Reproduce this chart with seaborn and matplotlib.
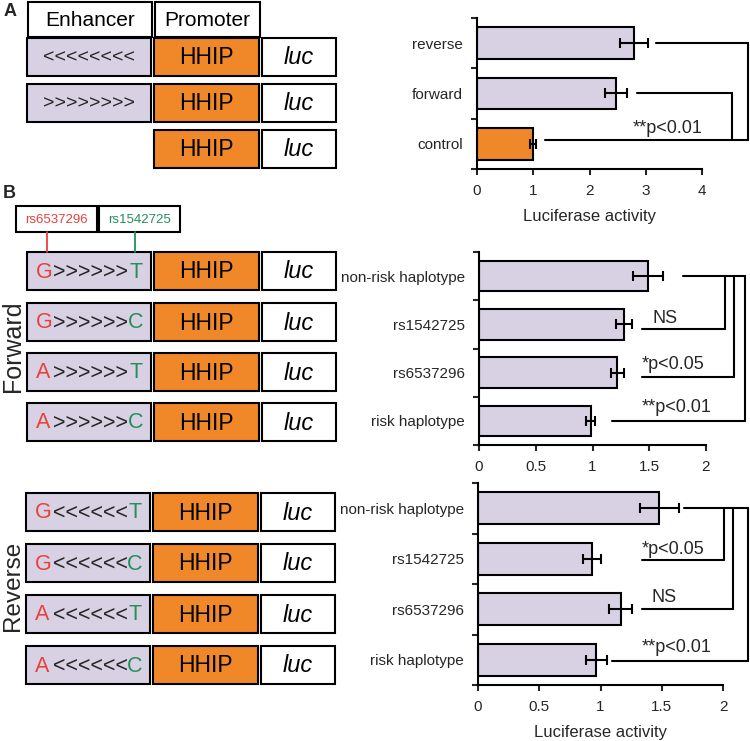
import matplotlib.pyplot as plt
import matplotlib.patches as mpatches
import seaborn as sns
import pandas as pd

# ------------------------------------------------------------------
# Data
# ------------------------------------------------------------------

a_labels = ["reverse", "forward", "control"]
a_values = [2.79, 2.47, 1.00]
a_errors = [0.25, 0.20, 0.05]

hap_labels = ["non-risk haplotype", "rs1542725", "rs6537296", "risk haplotype"]

fwd_values = [1.49, 1.28, 1.22, 0.985]
fwd_errors = [0.13, 0.07, 0.06, 0.04]
fwd_stats = ["NS", "*p<0.05", "**p<0.01"]

rev_values = [1.48, 0.93, 1.165, 0.965]
rev_errors = [0.16, 0.075, 0.095, 0.085]
rev_stats = ["*p<0.05", "NS", "**p<0.01"]

snp_names = ["rs6537296", "rs1542725"]
fwd_constructs = [("G", ">>>>>>", "T"), ("G", ">>>>>>", "C"),
                  ("A", ">>>>>>", "T"), ("A", ">>>>>>", "C")]
rev_constructs = [("G", "<<<<<<", "T"), ("G", "<<<<<<", "C"),
                  ("A", "<<<<<<", "T"), ("A", "<<<<<<", "C")]

# ------------------------------------------------------------------
# Style
# ------------------------------------------------------------------

LAVENDER = "#d7d1e3"
ORANGE = "#f0882a"
RED = "#e8403a"
GREEN = "#23905a"
LW = 1.5

sns.set_theme(style="white")
plt.rcParams["font.family"] = ["Liberation Sans", "DejaVu Sans"]

W, H = 750, 741
fig = plt.figure(figsize=(W / 100, H / 100), dpi=100)

# full-figure overlay in pixel coordinates for the construct diagrams
dia = fig.add_axes([0, 0, 1, 1])
dia.set_xlim(0, W)
dia.set_ylim(H, 0)
dia.axis("off")


def px_axes(left, top, right, bottom):
    return fig.add_axes([left / W, 1 - bottom / H, (right - left) / W, (bottom - top) / H])


def box(x0, y0, x1, y1, color, text=None, size=16, style="normal"):
    dia.add_patch(mpatches.Rectangle((x0, y0), x1 - x0, y1 - y0,
                                     facecolor=color, edgecolor="black", lw=LW))
    if text:
        dia.text((x0 + x1) / 2, (y0 + y1) / 2 + 1, text, ha="center", va="center",
                 fontsize=size, style=style, color="black")


def construct_row(top, parts=None, enh_text=None, x_shift=0):
    bottom = top + 38
    if parts is not None or enh_text is not None:
        box(27 + x_shift, top, 151 + x_shift, bottom, LAVENDER)
        ymid = (top + bottom) / 2 + 1
        if enh_text is not None:
            dia.text(89 + x_shift, ymid, enh_text, ha="center", va="center", fontsize=14)
        else:
            a1, arrows, a2 = parts
            dia.text(36 + x_shift, ymid, a1, ha="left", va="center", fontsize=15.5, color=RED)
            dia.text(91 + x_shift, ymid, arrows, ha="center", va="center", fontsize=15.5)
            dia.text(143 + x_shift, ymid, a2, ha="right", va="center", fontsize=15.5, color=GREEN)
    box(154 + x_shift, top, 259 + x_shift, bottom, ORANGE, "HHIP", 16.5)
    box(262 + x_shift, top, 336 + x_shift, bottom, "white", "luc", 17, "italic")


# ---------------- Panel A diagram ----------------
dia.text(4, 11, "A", fontsize=13, fontweight="bold", va="center", ha="left")
box(28, 2, 152, 37, "white", "Enhancer", 15)
box(155, 2, 260, 37, "white", "Promoter", 15)
construct_row(38, enh_text="<<<<<<<<")
construct_row(84, enh_text=">>>>>>>>")
construct_row(130)

# ---------------- Panel B diagrams ----------------
dia.text(3, 193, "B", fontsize=13, fontweight="bold", va="center", ha="left")
box(16, 206, 97, 232, "white")
box(99, 206, 180, 232, "white")
dia.text(56.5, 220, snp_names[0], ha="center", va="center", fontsize=9.5, color=RED)
dia.text(139.5, 220, snp_names[1], ha="center", va="center", fontsize=9.5, color=GREEN)
dia.plot([47, 47], [232, 252], color=RED, lw=1.3)
dia.plot([135, 135], [232, 252], color=GREEN, lw=1.3)

for top, parts in zip([252, 303, 353, 403], fwd_constructs):
    construct_row(top, parts)
for top, parts in zip([493, 544, 595, 646], rev_constructs):
    construct_row(top, parts, x_shift=-1)

dia.text(13, 346, "Forward", rotation=90, ha="center", va="center", fontsize=18)
dia.text(13, 586, "Reverse", rotation=90, ha="center", va="center", fontsize=17.5)


# ------------------------------------------------------------------
# Bar panels
# ------------------------------------------------------------------

def bar_panel(ax, labels, values, errors, colors, xmax, xticks, xticklabels,
              xlabel=None):
    df = pd.DataFrame({"label": labels, "value": values})
    sns.barplot(data=df, x="value", y="label", hue="label", palette=colors,
                legend=False, orient="h", width=0.63, saturation=1,
                errorbar=None, edgecolor="black", linewidth=LW, ax=ax)
    ax.errorbar(values, range(len(values)), xerr=errors, fmt="none",
                ecolor="black", elinewidth=LW, capsize=3.5, capthick=LW)
    n = len(labels)
    ax.set_xlim(0, xmax)
    ax.set_ylim(n - 0.5, -0.5)
    ax.set_yticks([i - 0.5 for i in range(n + 1)], minor=True)
    ax.tick_params(axis="y", which="major", length=0, pad=10, labelsize=11)
    ax.tick_params(axis="y", which="minor", left=True, length=4, width=LW)
    ax.set_xticks(xticks)
    ax.set_xticklabels(xticklabels)
    ax.tick_params(axis="x", bottom=True, length=4, width=LW, pad=7, labelsize=11)
    ax.set_ylabel("")
    ax.set_xlabel(xlabel or "", fontsize=12, labelpad=8)
    sns.despine(ax=ax)
    for side in ["left", "bottom"]:
        ax.spines[side].set_linewidth(LW)
        ax.spines[side].set_color("black")
    ax.patch.set_alpha(0)


def brackets(ax, hub_row, hub_y, hub_start, legs, stats=None, text_pos=None):
    kw = dict(color="black", lw=LW, clip_on=False)
    hub_end = max(vx for _, _, vx, _ in legs)
    ax.plot([hub_start, hub_end], [hub_y, hub_y], **kw)
    for row, start, vx, y in legs:
        ax.plot([start, vx], [y, y], **kw)
        ax.plot([vx, vx], [hub_y, y], **kw)
    if stats:
        for s, (tx, ty) in zip(stats, text_pos):
            ax.text(tx, ty, s, ha="left", va="center", fontsize=13)


# Panel A
ax_a = px_axes(477, 18, 702, 169)
bar_panel(ax_a, a_labels, a_values, a_errors,
          {"reverse": LAVENDER, "forward": LAVENDER, "control": ORANGE},
          4, [0, 1, 2, 3, 4], ["0", "1", "2", "3", "4"], "Luciferase activity")
brackets(ax_a, 2, 1.93, 1.21, [(0, 3.18, 4.82, 0.0), (1, 2.84, 4.53, 0.99)],
         ["**p<0.01"], [(2.77, 1.69)])

half_ticks = [0, 0.5, 1, 1.5, 2]
half_labels = ["0", "0.5", "1", "1.5", "2"]
hap_colors = {lab: LAVENDER for lab in hap_labels}

# Panel B forward
ax_f = px_axes(479, 252, 706, 445)
bar_panel(ax_f, hap_labels, fwd_values, fwd_errors, hap_colors,
          2, half_ticks, half_labels)
brackets(ax_f, 0, 0.0, 1.80,
         [(1, 1.44, 2.165, 1.10), (2, 1.44, 2.245, 2.09), (3, 1.17, 2.34, 3.0)],
         fwd_stats, [(1.525, 0.87), (1.436, 1.84), (1.436, 2.73)])

# Panel B reverse
ax_r = px_axes(478, 483, 723, 685)
bar_panel(ax_r, hap_labels, rev_values, rev_errors, hap_colors,
          2, half_ticks, half_labels, "Luciferase activity")
brackets(ax_r, 0, 0.0, 1.68,
         [(1, 1.34, 2.007, 1.03), (2, 1.34, 2.08, 2.0), (3, 1.09, 2.20, 3.02)],
         rev_stats, [(1.334, 0.82), (1.415, 1.76), (1.334, 2.76)])

fig.savefig("out.png", dpi=100)
